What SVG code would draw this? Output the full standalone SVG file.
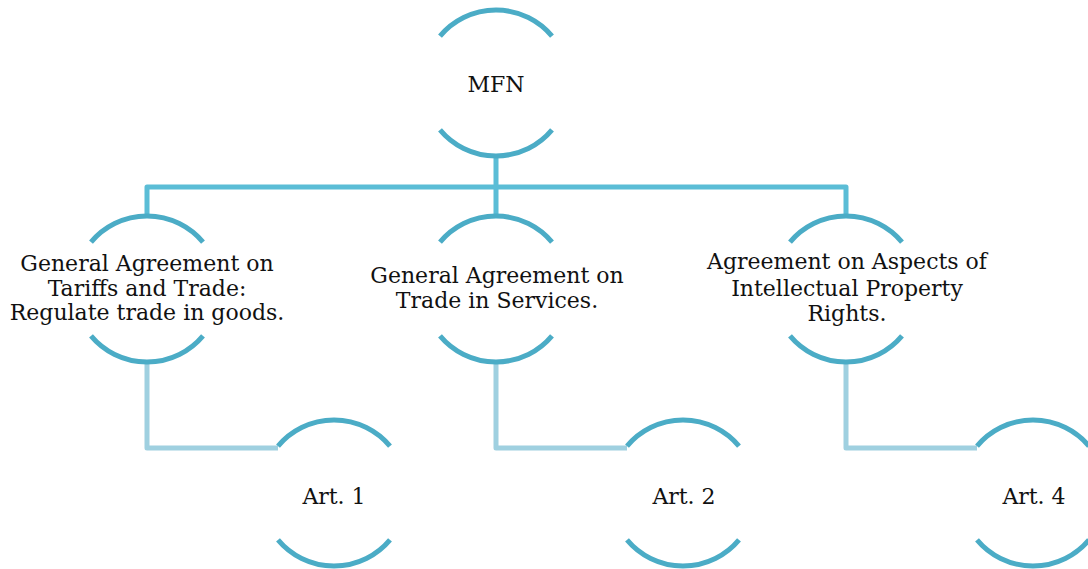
<svg xmlns="http://www.w3.org/2000/svg" width="1088" height="569" viewBox="0 0 1088 569">
  <style>
    .arc { fill: none; stroke: #4bacc6; stroke-width: 5; }
    .link-top { fill: none; stroke: #5bbdd6; stroke-width: 5; stroke-linejoin: round; }
    .link-sub { fill: none; stroke: #9fd0e0; stroke-width: 5; stroke-linejoin: round; }
    .label { font-family: "DejaVu Serif", "Liberation Serif", serif; font-size: 22px; fill: #111111; text-anchor: middle; }
  </style>
  <defs>
    <!-- open circle: upper and lower arcs around the origin, r = 73 -->
    <g id="ring">
      <path class="arc" d="M -56 -46.8 A 73 73 0 0 1 56 -46.8"/>
      <path class="arc" d="M -56 46.8 A 73 73 0 0 0 56 46.8"/>
    </g>
  </defs>

  <g id="connectors">
    <path class="link-top" d="M 496 156 V 187 M 147 216 V 187 H 846 V 216 M 496 187 V 216"/>
    <path class="link-sub" d="M 147 362 V 448 H 278"/>
    <path class="link-sub" d="M 496 362 V 448 H 627"/>
    <path class="link-sub" d="M 846 362 V 448 H 977"/>
  </g>

  <g id="node-mfn">
    <use href="#ring" x="496" y="83"/>
    <text class="label" x="496" y="92">MFN</text>
  </g>

  <g id="node-gatt">
    <use href="#ring" x="147" y="289"/>
    <text class="label" x="147" y="271">General Agreement on</text>
    <text class="label" x="147" y="296">Tariffs and Trade:</text>
    <text class="label" x="147" y="320">Regulate trade in goods.</text>
  </g>

  <g id="node-gats">
    <use href="#ring" x="496" y="289"/>
    <text class="label" x="497" y="283">General Agreement on</text>
    <text class="label" x="497" y="308">Trade in Services.</text>
  </g>

  <g id="node-trips">
    <use href="#ring" x="846" y="289"/>
    <text class="label" x="847" y="269">Agreement on Aspects of</text>
    <text class="label" x="847" y="296">Intellectual Property</text>
    <text class="label" x="847" y="321">Rights.</text>
  </g>

  <g id="node-art1">
    <use href="#ring" x="334" y="493"/>
    <text class="label" x="334" y="504">Art. 1</text>
  </g>

  <g id="node-art2">
    <use href="#ring" x="683" y="493"/>
    <text class="label" x="684" y="504">Art. 2</text>
  </g>

  <g id="node-art4">
    <use href="#ring" x="1033" y="493"/>
    <text class="label" x="1034" y="504">Art. 4</text>
  </g>
</svg>
